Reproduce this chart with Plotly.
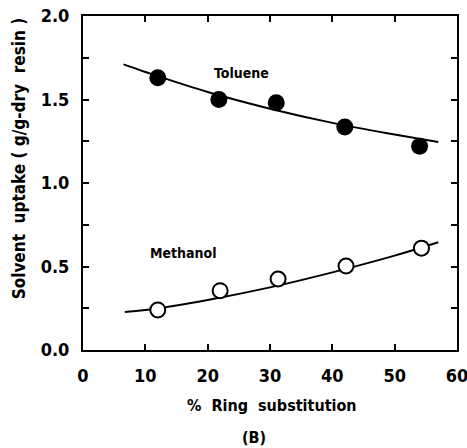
import plotly.graph_objects as go

# Measured data points
ring_sub_tol = [12.0, 21.8, 31.0, 42.0, 54.0]
uptake_tol = [1.63, 1.50, 1.48, 1.335, 1.22]
ring_sub_meoh = [12.0, 22.0, 31.3, 42.2, 54.3]
uptake_meoh = [0.24, 0.355, 0.425, 0.503, 0.61]

# Fitted curves
fit_x_tol = [6.5, 10, 20, 30, 40, 50, 57]
fit_y_tol = [1.71, 1.665, 1.545, 1.445, 1.36, 1.29, 1.245]
fit_x_meoh = [6.7, 10, 20, 30, 40, 50, 57]
fit_y_meoh = [0.228, 0.24, 0.30, 0.375, 0.465, 0.565, 0.645]

x_ticks = [0, 10, 20, 30, 40, 50, 60]
y_ticks = [0.0, 0.5, 1.0, 1.5, 2.0]

FONT = "DejaVu Sans Condensed"

fig = go.Figure()
fig.add_trace(go.Scatter(x=fit_x_tol, y=fit_y_tol, mode="lines",
                         line=dict(color="black", width=2, shape="spline"), hoverinfo="skip"))
fig.add_trace(go.Scatter(x=fit_x_meoh, y=fit_y_meoh, mode="lines",
                         line=dict(color="black", width=2, shape="spline"), hoverinfo="skip"))
fig.add_trace(go.Scatter(x=ring_sub_tol, y=uptake_tol, mode="markers",
                         marker=dict(symbol="circle", size=17, color="black")))
fig.add_trace(go.Scatter(x=ring_sub_meoh, y=uptake_meoh, mode="markers",
                         marker=dict(symbol="circle", size=15, color="white",
                                     line=dict(color="black", width=2))))

def note(text, x, y, size, xref="x", yref="y", angle=0):
    fig.add_annotation(x=x, y=y, xref=xref, yref=yref, text=text, showarrow=False,
                       textangle=angle, xanchor="center", yanchor="middle",
                       font=dict(family=FONT, size=size, color="black"))

note("<b>Toluene</b>", 25.4, 1.66, 14)
note("<b>Methanol</b>", 16.2, 0.58, 14)
note("<b>%&nbsp; Ring&nbsp; substitution</b>", 0.506, -0.165, 16, "paper", "paper")
note("<b>(B)</b>", 0.458, -0.263, 16, "paper", "paper")
note("<b>Solvent&nbsp; uptake ( g/g-dry&nbsp; resin )</b>", -0.170, 0.575, 17, "paper", "paper", -90)

fig.update_layout(
    width=467, height=448,
    margin=dict(l=83, r=10, t=16, b=98),
    paper_bgcolor="white", plot_bgcolor="white",
    showlegend=False,
    font=dict(family=FONT, color="black"),
    xaxis=dict(range=[0, 60], tickvals=x_ticks, ticktext=["<b>%d</b>" % v for v in x_ticks],
               ticks="inside", ticklen=6, tickwidth=2, tickcolor="black",
               showline=True, linecolor="black", linewidth=2, mirror="ticks",
               showgrid=False, zeroline=False, automargin=False, ticklabeloverflow="allow",
               tickfont=dict(family=FONT, size=18), ticklabelstandoff=8),
    yaxis=dict(range=[0, 2.0], tickvals=y_ticks, ticktext=["<b>%.1f</b>" % v for v in y_ticks],
               ticks="inside", ticklen=6, tickwidth=2, tickcolor="black",
               minor=dict(dtick=0.25, ticks="inside", ticklen=6, tickwidth=2, tickcolor="black"),
               showline=True, linecolor="black", linewidth=2, mirror="ticks",
               showgrid=False, zeroline=False, automargin=False, ticklabeloverflow="allow",
               tickfont=dict(family=FONT, size=18), ticklabelstandoff=8),
)

# remove the default 8px page margin so the figure fills the window exactly,
# and hide the mode bar so it does not cover the top axis
fig.write_html("out.html", config={"displayModeBar": False},
               post_script="document.body.style.margin='0px';")
